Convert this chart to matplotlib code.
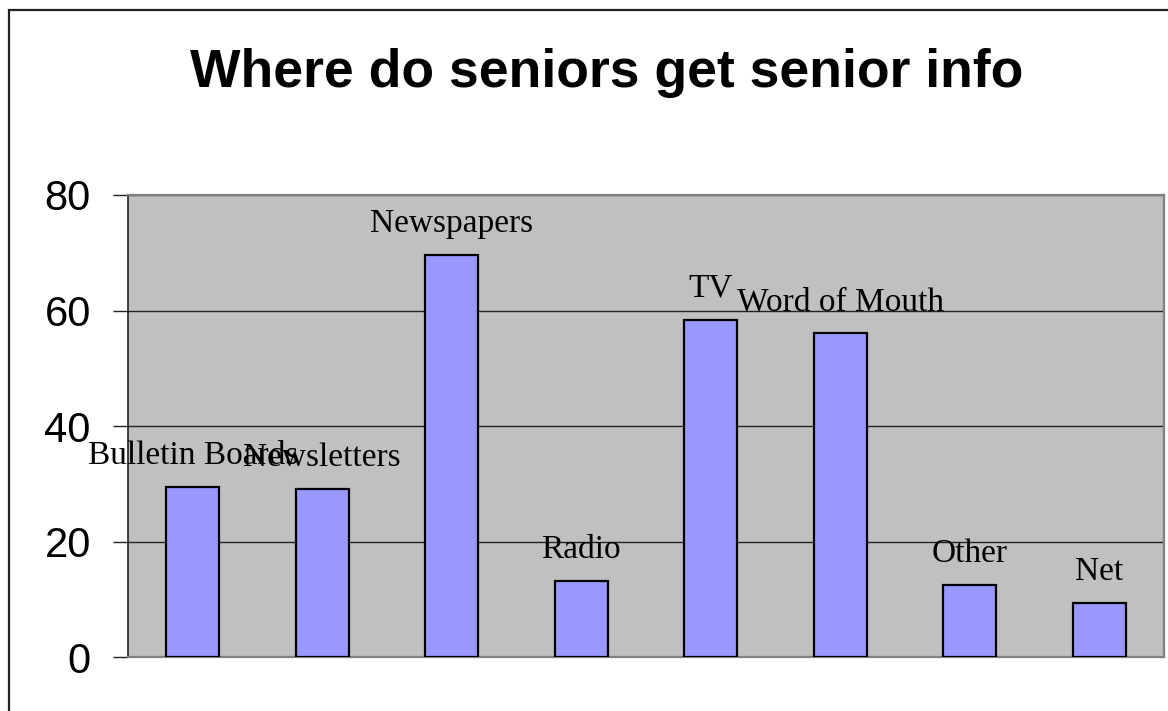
import matplotlib.pyplot as plt
from matplotlib.patches import Rectangle

categories = ["Bulletin Boards", "Newsletters", "Newspapers", "Radio",
              "TV", "Word of Mouth", "Other", "Net"]
values = [29.5, 29.1, 69.6, 13.2, 58.4, 56.1, 12.5, 9.4]
yticks = [0, 20, 40, 60, 80]

W, H = 1168, 711
fig = plt.figure(figsize=(W / 100, H / 100), dpi=100)

# frame around the whole chart
fig.patches.append(Rectangle((9 / W, -0.05), 1.1, 1 - 9.5 / H + 0.05,
                             transform=fig.transFigure, fill=False,
                             edgecolor='#222222', lw=1.6))

ax = fig.add_axes([128 / W, (H - 657.3) / H, (1164 - 128) / W, (657.3 - 195) / H])
ax.set_facecolor('#C0C0C0')

x = range(len(categories))
ax.bar(x, values, width=0.41, color='#9999FF', edgecolor='black', lw=1.6, zorder=3)

for xi, v, name in zip(x, values, categories):
    ax.annotate(name, (xi, v), xytext=(0, 16.5), textcoords='offset points',
                ha='center', va='baseline', fontsize=24,
                family='Liberation Serif', zorder=4)

ax.set_xlim(-0.5, len(categories) - 0.5)
ax.set_ylim(0, 80)
ax.set_yticks(yticks)
ax.set_yticklabels([str(t) for t in yticks], family='Liberation Sans', fontsize=30)
ax.tick_params(axis='y', direction='out', length=10.8, width=1, pad=16, color='#222222')
ax.set_xticks([])
ax.yaxis.grid(True, color='#222222', lw=1)
ax.set_axisbelow(True)

for side in ['top', 'right', 'bottom']:
    ax.spines[side].set_color('#808080')
    ax.spines[side].set_linewidth(1.6)
ax.spines['left'].set_color('#222222')
ax.spines['left'].set_linewidth(1.2)

fig.text(607 / W, (H - 87) / H, 'Where do seniors get senior info',
         ha='center', va='baseline', fontsize=38.5, fontweight='bold',
         family='Liberation Sans')

fig.savefig('out.png', dpi=100)
